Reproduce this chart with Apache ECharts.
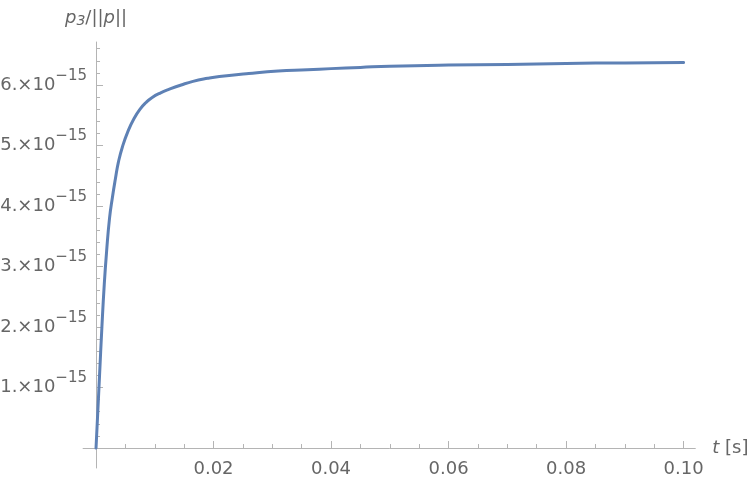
<!DOCTYPE html>
<html>
<head>
<meta charset="utf-8">
<script src="https://cdn.jsdelivr.net/npm/echarts@6/dist/echarts.min.js"></script>
<style>html,body{margin:0;padding:0;background:#fff;}#c{width:750px;height:486px;}</style>
</head>
<body>
<div id="c"></div>
<script>
// time in seconds
const tValues = [0, 0.0003, 0.0006, 0.001, 0.0014, 0.0018, 0.0023, 0.0028, 0.0033, 0.0038, 0.0045, 0.0055, 0.0065, 0.0075, 0.0085, 0.0095, 0.011, 0.0125, 0.0145, 0.0165, 0.019, 0.021, 0.026, 0.031, 0.036, 0.04, 0.045, 0.05, 0.06, 0.07, 0.08, 0.09, 0.1];
// p3/||p|| in units of 1e-15
const pValues = [0, 0.6, 1.2, 2.0, 2.7, 3.25, 3.8, 4.15, 4.45, 4.72, 4.98, 5.25, 5.45, 5.60, 5.71, 5.79, 5.87, 5.93, 6.00, 6.06, 6.11, 6.14, 6.19, 6.23, 6.25, 6.27, 6.29, 6.31, 6.33, 6.34, 6.355, 6.365, 6.37];
const yExponent = '−15';
const xMajorTicks = [0.02, 0.04, 0.06, 0.08, 0.10];
const xTickLabels = ['0.02', '0.04', '0.06', '0.08', '0.10'];
const xMinorTicks = [0.005, 0.01, 0.015, 0.025, 0.03, 0.035, 0.045, 0.05, 0.055, 0.065, 0.07, 0.075, 0.085, 0.09, 0.095];
const yMajorTicks = [1, 2, 3, 4, 5, 6];
const yTickLabels = ['1.', '2.', '3.', '4.', '5.', '6.'];
const yMinorTicks = [0.2, 0.4, 0.6, 0.8, 1.2, 1.4, 1.6, 1.8, 2.2, 2.4, 2.6, 2.8, 3.2, 3.4, 3.6, 3.8, 4.2, 4.4, 4.6, 4.8, 5.2, 5.4, 5.6, 5.8, 6.2, 6.4, 6.6];

const axisColor = '#b4b4b4';
const textColor = '#666666';
const FONT = 'DejaVu Sans';
const xMin = -0.0022, xMax = 0.102, yMin = -0.33, yMax = 6.71;

const chart = echarts.init(document.getElementById('c'), null, {renderer: 'canvas'});
const data = tValues.map((t, i) => [t, pValues[i]]);

function baseX(extra) {
  return Object.assign({
    type: 'value', min: xMin, max: xMax, position: 'bottom',
    splitLine: {show: false},
    axisLine: {show: true, onZero: true, lineStyle: {color: axisColor, width: 1}},
  }, extra);
}
function baseY(extra) {
  return Object.assign({
    type: 'value', min: yMin, max: yMax, position: 'left',
    splitLine: {show: false},
    axisLine: {show: true, onZero: true, lineStyle: {color: axisColor, width: 1}},
  }, extra);
}

chart.setOption({
  animation: false,
  backgroundColor: '#ffffff',
  grid: {left: 83.1, right: 54.7, top: 42, bottom: 18, containLabel: false, outerBoundsMode: 'none'},
  xAxis: [
    baseX({
      name: '{i|t} [s]',
      nameLocation: 'end',
      nameGap: 17,
      nameTextStyle: {color: textColor, fontFamily: FONT, fontSize: 18, verticalAlign: 'middle',
        rich: {i: {fontStyle: 'italic', fontFamily: FONT, fontSize: 18, color: textColor}}},
      axisTick: {show: true, inside: true, length: 7, customValues: xMajorTicks, lineStyle: {color: axisColor}},
      axisLabel: {show: true, customValues: xMajorTicks, margin: -7.5, color: textColor, fontFamily: FONT, fontSize: 18,
        formatter: v => { const i = xMajorTicks.findIndex(x => Math.abs(x - v) < 1e-9); return i >= 0 ? xTickLabels[i] : ''; }}
    }),
    baseX({
      axisLine: {show: false, onZero: true},
      axisTick: {show: true, inside: true, length: 4, customValues: xMinorTicks, lineStyle: {color: axisColor}},
      axisLabel: {show: false}
    })
  ],
  yAxis: [
    baseY({
      name: '{i|p}{sub|3}{n|/||}{i|p}{n|||}',
      nameLocation: 'end',
      nameGap: 14,
      nameTextStyle: {color: textColor, fontFamily: FONT, fontSize: 18, align: 'center',
        rich: {
          i: {fontStyle: 'italic', fontFamily: FONT, fontSize: 18, color: textColor},
          sub: {fontStyle: 'italic', fontFamily: FONT, fontSize: 14, color: textColor, padding: [5, 0, 0, 0]},
          n: {fontFamily: FONT, fontSize: 18, color: textColor}
        }},
      axisTick: {show: true, inside: true, length: 7, customValues: yMajorTicks, lineStyle: {color: axisColor}},
      axisLabel: {show: true, customValues: yMajorTicks, margin: -3.9, align: 'right',
        formatter: v => { const i = yMajorTicks.findIndex(y => Math.abs(y - v) < 1e-9); return i >= 0 ? '{m|' + yTickLabels[i] + '×10}{s|' + yExponent + '}' : ''; },
        rich: {
          m: {fontFamily: FONT, fontSize: 18, color: textColor},
          s: {fontFamily: FONT, fontSize: 15, color: textColor, padding: [0, 0, 18, 0]}
        }}
    }),
    baseY({
      axisLine: {show: false, onZero: true},
      axisTick: {show: true, inside: true, length: 4, customValues: yMinorTicks, lineStyle: {color: axisColor}},
      axisLabel: {show: false}
    })
  ],
  series: [{
    type: 'line',
    xAxisIndex: 0, yAxisIndex: 0,
    data: data,
    showSymbol: false,
    smooth: 0.5,
    lineStyle: {color: '#5e81b5', width: 3, cap: 'round', join: 'round'},
    itemStyle: {color: '#5e81b5'},
    clip: false
  }]
});
</script>
</body>
</html>
